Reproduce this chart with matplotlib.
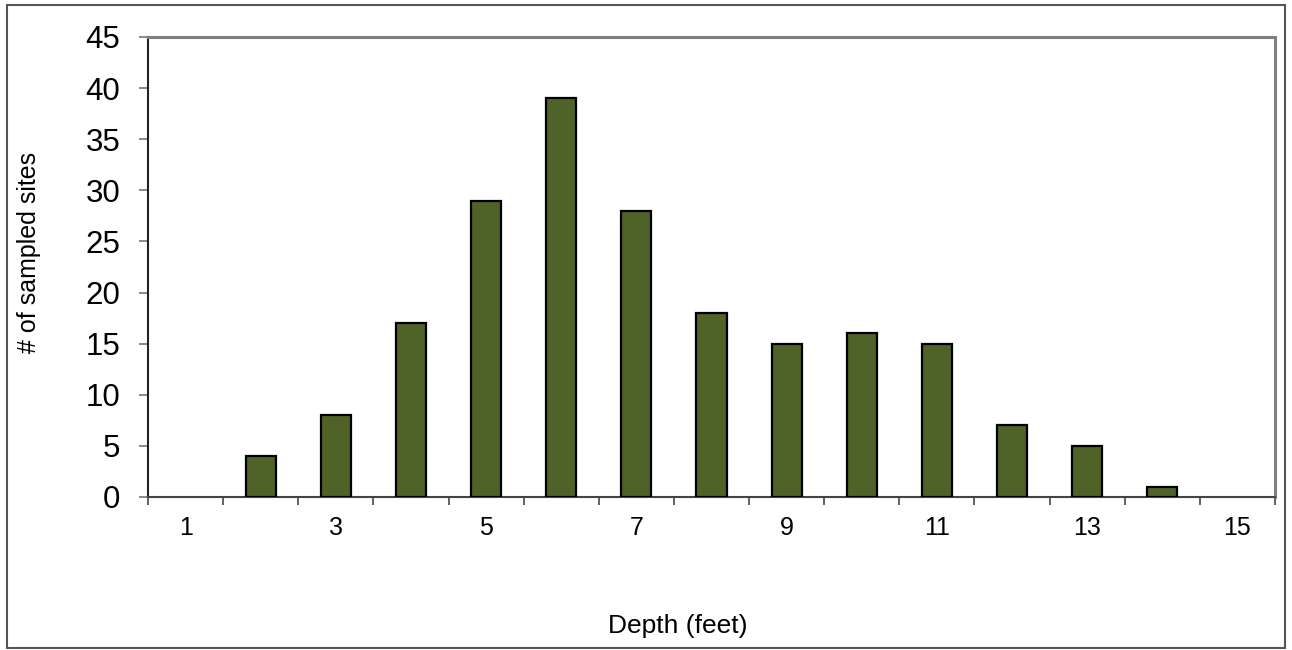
import matplotlib.pyplot as plt
from matplotlib.patches import Rectangle
import numpy as np

plt.rcParams['font.family'] = ['Liberation Sans', 'DejaVu Sans']

# depth classes (feet) and number of sampled sites in each
depths = list(range(1, 16))
sites = [0, 4, 8, 17, 29, 39, 28, 18, 15, 16, 15, 7, 5, 1, 0]
y_ticks = [0, 5, 10, 15, 20, 25, 30, 35, 40, 45]

W, H = 1292, 650
fig = plt.figure(figsize=(W / 100, H / 100), dpi=100)
ax = fig.add_axes([148 / W, 1 - 497 / H, (1275 - 148) / W, (497 - 37) / H])

x = np.arange(len(depths))
# empty classes get no outline
edge_w = [1.6 if v > 0 else 0 for v in sites]
ax.bar(x, sites, width=0.4, color='#4F6228', edgecolor='black', linewidth=edge_w, zorder=3)

ax.set_xlim(-0.5, len(depths) - 0.5)
ax.set_ylim(0, 45)

ax.set_yticks(y_ticks)
ax.tick_params(axis='y', labelsize=22.5, length=6.5, width=1.3, color='#808080', pad=13.5)

# labels on odd depths, tick marks at category boundaries
ax.set_xticks(x[::2])
ax.set_xticklabels([str(d) for d in depths[::2]])
ax.set_xticks(np.arange(-0.5, len(depths), 1), minor=True)
ax.tick_params(axis='x', which='major', length=0, labelsize=18, pad=13.5)
ax.tick_params(axis='x', which='minor', length=6, width=1.3, color='#555555')

for side in ['top', 'right']:
    ax.spines[side].set_color('#808080')
    ax.spines[side].set_linewidth(2.2)
ax.spines['left'].set_color('#222222')
ax.spines['left'].set_linewidth(1.5)
ax.spines['bottom'].set_color('#444444')
ax.spines['bottom'].set_linewidth(1.5)

fig.text(29 / W, 1 - 252 / H, '# of sampled sites', rotation=90, fontsize=18,
         ha='center', va='center')
fig.text(678 / W, 1 - 626 / H, 'Depth (feet)', fontsize=19, ha='center', va='center')

# chart border
fig.patches.append(Rectangle((7 / W, 2 / H), (1285 - 7) / W, (645 - 2) / H,
                             transform=fig.transFigure, fill=False,
                             edgecolor='#555555', linewidth=1.5))

fig.savefig('out.png', dpi=100)
